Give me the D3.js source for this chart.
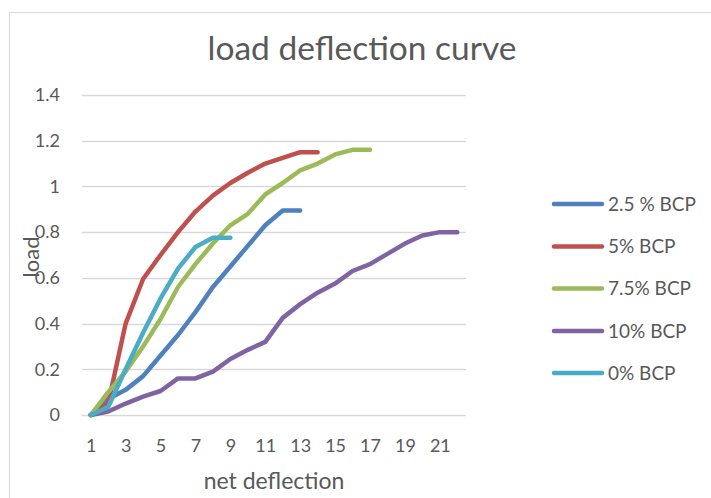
<!DOCTYPE html>
<html>
<head>
<meta charset="utf-8">
<script src="https://cdn.jsdelivr.net/npm/d3@7/dist/d3.min.js"></script>
<style>
  html, body { margin: 0; padding: 0; background: #fff; }
  svg { display: block; }
  text { font-family: Lato, "Open Sans", sans-serif; fill: #595959; }
</style>
</head>
<body>
<svg id="chart" width="711" height="498"></svg>
<script>
// ---- data ----
const categories = d3.range(1, 23); // net deflection categories 1..22
const seriesNames = ["2.5 % BCP", "5% BCP", "7.5% BCP", "10% BCP", "0% BCP"];
const bcp2_5 = [0, 0.07, 0.11, 0.17, 0.26, 0.35, 0.45, 0.56, 0.65, 0.74, 0.83, 0.895, 0.895];
const bcp5   = [0, 0.05, 0.40, 0.595, 0.70, 0.80, 0.89, 0.96, 1.015, 1.06, 1.10, 1.125, 1.15, 1.15];
const bcp7_5 = [0, 0.10, 0.19, 0.30, 0.42, 0.56, 0.66, 0.75, 0.83, 0.88, 0.965, 1.015, 1.07, 1.10, 1.14, 1.16, 1.16];
const bcp10  = [0, 0.015, 0.05, 0.08, 0.105, 0.16, 0.16, 0.19, 0.245, 0.285, 0.32, 0.425, 0.485, 0.535, 0.575, 0.63, 0.66, 0.705, 0.75, 0.785, 0.80, 0.80];
const bcp0   = [0, 0.035, 0.20, 0.36, 0.51, 0.64, 0.735, 0.775, 0.775];
const seriesColors = ["#4F81BD", "#C0504D", "#9BBB59", "#8064A2", "#4BACC6"];
const yTicks = [0, 0.2, 0.4, 0.6, 0.8, 1, 1.2, 1.4];
const xTickLabels = [1, 3, 5, 7, 9, 11, 13, 15, 17, 19, 21];

const seriesValues = [bcp2_5, bcp5, bcp7_5, bcp10, bcp0];

// ---- layout ----
const svg = d3.select("#chart");
const plot = { left: 82, right: 466, top: 95, bottom: 415 };

// chart frame
svg.append("rect")
  .attr("x", 9.5).attr("y", 12.5)
  .attr("width", 720).attr("height", 500)
  .attr("fill", "#fff").attr("stroke", "#d9d9d9").attr("stroke-width", 1);

const x = d3.scalePoint().domain(categories).range([plot.left, plot.right]).padding(0.5);
const y = d3.scaleLinear().domain([0, 1.4]).range([plot.bottom, plot.top]);

// gridlines
svg.append("g")
  .selectAll("line").data(yTicks).join("line")
  .attr("x1", plot.left).attr("x2", plot.right)
  .attr("y1", d => Math.round(y(d)) + 0.5).attr("y2", d => Math.round(y(d)) + 0.5)
  .attr("stroke", "#d9d9d9").attr("stroke-width", 1.3);

// y axis labels
const yAxis = d3.axisLeft(y).tickValues(yTicks).tickSize(0).tickPadding(0)
  .tickFormat(d => d3.format("")(+d.toFixed(1)));
const gy = svg.append("g").attr("transform", `translate(${plot.left - 22},0)`).call(yAxis);
gy.select(".domain").remove();
gy.selectAll("text").attr("font-size", 18).attr("fill", "#595959")
  .style("font-family", "Lato, sans-serif");

// x axis labels
const xAxis = d3.axisBottom(x).tickValues(xTickLabels).tickSize(0).tickPadding(0);
const gx = svg.append("g").attr("transform", `translate(0,${plot.bottom + 24})`).call(xAxis);
gx.select(".domain").remove();
gx.selectAll("text").attr("font-size", 18).attr("fill", "#595959")
  .style("font-family", "Lato, sans-serif");

// lines
const line = d3.line().x((d, i) => x(categories[i])).y(d => y(d));
svg.append("g").selectAll("path").data(seriesValues).join("path")
  .attr("d", d => line(d))
  .attr("fill", "none")
  .attr("stroke", (d, i) => seriesColors[i])
  .attr("stroke-width", 4.5)
  .attr("stroke-linejoin", "round")
  .attr("stroke-linecap", "round");

// title
svg.append("text")
  .attr("x", 362).attr("y", 60)
  .attr("text-anchor", "middle")
  .attr("font-size", 33.5)
  .text("load deflection curve");

// axis titles
svg.append("text")
  .attr("x", (plot.left + plot.right) / 2).attr("y", 489)
  .attr("text-anchor", "middle")
  .attr("font-size", 23)
  .text("net deflection");

svg.append("text")
  .attr("transform", `translate(39,${(plot.top + plot.bottom) / 2 + 2}) rotate(-90)`)
  .attr("text-anchor", "middle")
  .attr("font-size", 22)
  .text("load");

// legend
const legendY = [204, 246.5, 288.5, 331, 373];
const lg = svg.append("g");
seriesNames.forEach((name, i) => {
  lg.append("line")
    .attr("x1", 554).attr("x2", 602)
    .attr("y1", legendY[i]).attr("y2", legendY[i])
    .attr("stroke", seriesColors[i]).attr("stroke-width", 4.5)
    .attr("stroke-linecap", "round");
  lg.append("text")
    .attr("x", 608).attr("y", legendY[i] + 6.5)
    .attr("font-size", 19)
    .text(name);
});
</script>
</body>
</html>
